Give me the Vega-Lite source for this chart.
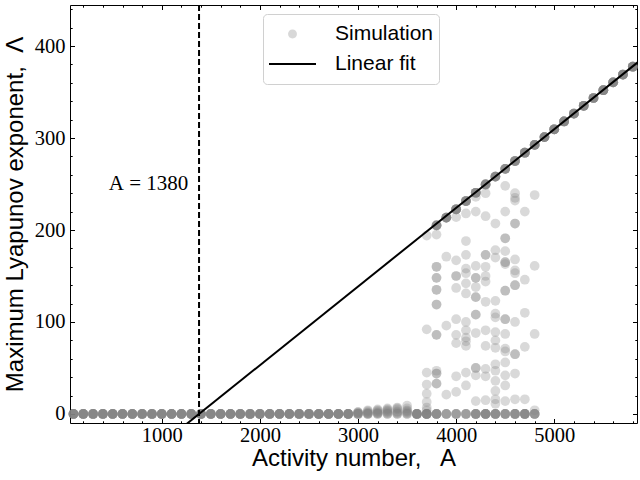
{
  "$schema": "https://vega.github.io/schema/vega-lite/v6.json",
  "width": 567,
  "height": 418,
  "autosize": "none",
  "padding": {"left": 70, "top": 5, "right": 3, "bottom": 57},
  "config": {
    "view": {"stroke": null},
    "axis": {
      "grid": false,
      "domainColor": "black",
      "domainWidth": 1,
      "tickColor": "black",
      "tickWidth": 1,
      "labelFont": "Liberation Serif",
      "labelFontSize": 20.5,
      "labelColor": "black",
      "titleFont": "Liberation Sans",
      "titleFontSize": 24,
      "titleFontWeight": "normal",
      "titleColor": "black",
      "labelFlush": false,
      "labelOverlap": false
    }
  },
  "datasets": {
    "sim": [
      {"A":100,"L":0},{"A":100,"L":0},{"A":100,"L":0},{"A":100,"L":0},{"A":100,"L":0},{"A":100,"L":0},{"A":100,"L":0},{"A":100,"L":0},
      {"A":200,"L":0},{"A":200,"L":0},{"A":200,"L":0},{"A":200,"L":0},{"A":200,"L":0},{"A":200,"L":0},{"A":200,"L":0},{"A":200,"L":0},
      {"A":300,"L":0},{"A":300,"L":0},{"A":300,"L":0},{"A":300,"L":0},{"A":300,"L":0},{"A":300,"L":0},{"A":300,"L":0},{"A":300,"L":0},
      {"A":400,"L":0},{"A":400,"L":0},{"A":400,"L":0},{"A":400,"L":0},{"A":400,"L":0},{"A":400,"L":0},{"A":400,"L":0},{"A":400,"L":0},
      {"A":500,"L":0},{"A":500,"L":0},{"A":500,"L":0},{"A":500,"L":0},{"A":500,"L":0},{"A":500,"L":0},{"A":500,"L":0},{"A":500,"L":0},
      {"A":600,"L":0},{"A":600,"L":0},{"A":600,"L":0},{"A":600,"L":0},{"A":600,"L":0},{"A":600,"L":0},{"A":600,"L":0},{"A":600,"L":0},
      {"A":700,"L":0},{"A":700,"L":0},{"A":700,"L":0},{"A":700,"L":0},{"A":700,"L":0},{"A":700,"L":0},{"A":700,"L":0},{"A":700,"L":0},
      {"A":800,"L":0},{"A":800,"L":0},{"A":800,"L":0},{"A":800,"L":0},{"A":800,"L":0},{"A":800,"L":0},{"A":800,"L":0},{"A":800,"L":0},
      {"A":900,"L":0},{"A":900,"L":0},{"A":900,"L":0},{"A":900,"L":0},{"A":900,"L":0},{"A":900,"L":0},{"A":900,"L":0},{"A":900,"L":0},
      {"A":1000,"L":0},{"A":1000,"L":0},{"A":1000,"L":0},{"A":1000,"L":0},{"A":1000,"L":0},{"A":1000,"L":0},{"A":1000,"L":0},{"A":1000,"L":0},
      {"A":1100,"L":0},{"A":1100,"L":0},{"A":1100,"L":0},{"A":1100,"L":0},{"A":1100,"L":0},{"A":1100,"L":0},{"A":1100,"L":0},{"A":1100,"L":0},
      {"A":1200,"L":0},{"A":1200,"L":0},{"A":1200,"L":0},{"A":1200,"L":0},{"A":1200,"L":0},{"A":1200,"L":0},{"A":1200,"L":0},{"A":1200,"L":0},
      {"A":1300,"L":0},{"A":1300,"L":0},{"A":1300,"L":0},{"A":1300,"L":0},{"A":1300,"L":0},{"A":1300,"L":0},{"A":1300,"L":0},{"A":1300,"L":0},
      {"A":1400,"L":0},{"A":1400,"L":0},{"A":1400,"L":0},{"A":1400,"L":0},{"A":1400,"L":0},{"A":1400,"L":0},{"A":1400,"L":0},{"A":1400,"L":0},
      {"A":1500,"L":0},{"A":1500,"L":0},{"A":1500,"L":0},{"A":1500,"L":0},{"A":1500,"L":0},{"A":1500,"L":0},{"A":1500,"L":0},{"A":1500,"L":0},
      {"A":1600,"L":0},{"A":1600,"L":0},{"A":1600,"L":0},{"A":1600,"L":0},{"A":1600,"L":0},{"A":1600,"L":0},{"A":1600,"L":0},{"A":1600,"L":0},
      {"A":1700,"L":0},{"A":1700,"L":0},{"A":1700,"L":0},{"A":1700,"L":0},{"A":1700,"L":0},{"A":1700,"L":0},{"A":1700,"L":0},{"A":1700,"L":0},
      {"A":1800,"L":0},{"A":1800,"L":0},{"A":1800,"L":0},{"A":1800,"L":0},{"A":1800,"L":0},{"A":1800,"L":0},{"A":1800,"L":0},{"A":1800,"L":0},
      {"A":1900,"L":0},{"A":1900,"L":0},{"A":1900,"L":0},{"A":1900,"L":0},{"A":1900,"L":0},{"A":1900,"L":0},{"A":1900,"L":0},{"A":1900,"L":0},
      {"A":2000,"L":0},{"A":2000,"L":0},{"A":2000,"L":0},{"A":2000,"L":0},{"A":2000,"L":0},{"A":2000,"L":0},{"A":2000,"L":0},{"A":2000,"L":0},
      {"A":2100,"L":0},{"A":2100,"L":0},{"A":2100,"L":0},{"A":2100,"L":0},{"A":2100,"L":0},{"A":2100,"L":0},{"A":2100,"L":0},{"A":2100,"L":0},
      {"A":2200,"L":0},{"A":2200,"L":0},{"A":2200,"L":0},{"A":2200,"L":0},{"A":2200,"L":0},{"A":2200,"L":0},{"A":2200,"L":0},{"A":2200,"L":0},
      {"A":2300,"L":0},{"A":2300,"L":0},{"A":2300,"L":0},{"A":2300,"L":0},{"A":2300,"L":0},{"A":2300,"L":0},{"A":2300,"L":0},{"A":2300,"L":0},
      {"A":2400,"L":0},{"A":2400,"L":0},{"A":2400,"L":0},{"A":2400,"L":0},{"A":2400,"L":0},{"A":2400,"L":0},{"A":2400,"L":0},{"A":2400,"L":0},
      {"A":2500,"L":0},{"A":2500,"L":0},{"A":2500,"L":0},{"A":2500,"L":0},{"A":2500,"L":0},{"A":2500,"L":0},{"A":2500,"L":0},{"A":2500,"L":0},
      {"A":2600,"L":0},{"A":2600,"L":0},{"A":2600,"L":0},{"A":2600,"L":0},{"A":2600,"L":0},{"A":2600,"L":0},{"A":2600,"L":0},{"A":2600,"L":0},
      {"A":2700,"L":0},{"A":2700,"L":0},{"A":2700,"L":0},{"A":2700,"L":0},{"A":2700,"L":0},{"A":2700,"L":0},{"A":2700,"L":0},{"A":2700,"L":0},
      {"A":2800,"L":0},{"A":2800,"L":0},{"A":2800,"L":0},{"A":2800,"L":0},{"A":2800,"L":0},{"A":2800,"L":0},{"A":2800,"L":0},{"A":2800,"L":0},
      {"A":2900,"L":0},{"A":2900,"L":0},{"A":2900,"L":0},{"A":2900,"L":0},{"A":2900,"L":0},{"A":2900,"L":0},{"A":2900,"L":0},{"A":2900,"L":0},
      {"A":3000,"L":0},{"A":3000,"L":0},{"A":3000,"L":0},{"A":3000,"L":0},{"A":3000,"L":1},{"A":3000,"L":1},{"A":3000,"L":2},{"A":3000,"L":2},
      {"A":3100,"L":0},{"A":3100,"L":0},{"A":3100,"L":0},{"A":3100,"L":1},{"A":3100,"L":1},{"A":3100,"L":2},{"A":3100,"L":3},{"A":3100,"L":4},
      {"A":3200,"L":0},{"A":3200,"L":0},{"A":3200,"L":1},{"A":3200,"L":1},{"A":3200,"L":2},{"A":3200,"L":3},{"A":3200,"L":4},{"A":3200,"L":5},
      {"A":3300,"L":0},{"A":3300,"L":0},{"A":3300,"L":1},{"A":3300,"L":2},{"A":3300,"L":3},{"A":3300,"L":4},{"A":3300,"L":5},{"A":3300,"L":6},
      {"A":3400,"L":0},{"A":3400,"L":0},{"A":3400,"L":1},{"A":3400,"L":2},{"A":3400,"L":3},{"A":3400,"L":5},{"A":3400,"L":6},{"A":3400,"L":7},
      {"A":3500,"L":0},{"A":3500,"L":0},{"A":3500,"L":1},{"A":3500,"L":2},{"A":3500,"L":3},{"A":3500,"L":4},{"A":3500,"L":6},{"A":3500,"L":9},
      {"A":3600,"L":0},{"A":3600,"L":0},{"A":3600,"L":0},{"A":3600,"L":0},{"A":3600,"L":0},{"A":3600,"L":0},{"A":3600,"L":0},{"A":3600,"L":0},
      {"A":3700,"L":194},{"A":3700,"L":92},{"A":3700,"L":45},{"A":3700,"L":32},{"A":3700,"L":22},{"A":3700,"L":13},{"A":3700,"L":7},{"A":3700,"L":4},
      {"A":3700,"L":0},{"A":3700,"L":0},{"A":3700,"L":0},{"A":3700,"L":0},{"A":3700,"L":0},{"A":3700,"L":0},{"A":3700,"L":0},{"A":3700,"L":0},
      {"A":3800,"L":205},{"A":3800,"L":205},{"A":3800,"L":205},{"A":3800,"L":205},{"A":3800,"L":205},{"A":3800,"L":205},
      {"A":3800,"L":195},{"A":3800,"L":160},{"A":3800,"L":160},{"A":3800,"L":148},{"A":3800,"L":148},{"A":3800,"L":135},{"A":3800,"L":135},{"A":3800,"L":119},
      {"A":3800,"L":119},{"A":3800,"L":86},{"A":3800,"L":86},{"A":3800,"L":47},{"A":3800,"L":44},{"A":3800,"L":44},{"A":3800,"L":33},{"A":3800,"L":33},
      {"A":3800,"L":0},{"A":3800,"L":0},{"A":3800,"L":0},{"A":3800,"L":0},{"A":3800,"L":0},{"A":3800,"L":0},
      {"A":3900,"L":213.5},{"A":3900,"L":213.5},{"A":3900,"L":213.5},{"A":3900,"L":213.5},{"A":3900,"L":213.5},{"A":3900,"L":213.5},{"A":3900,"L":213.5},
      {"A":3900,"L":171},{"A":3900,"L":96},{"A":3900,"L":21},
      {"A":3900,"L":0},{"A":3900,"L":0},{"A":3900,"L":0},{"A":3900,"L":0},
      {"A":4000,"L":222.5},{"A":4000,"L":222.5},{"A":4000,"L":222.5},{"A":4000,"L":222.5},{"A":4000,"L":222.5},{"A":4000,"L":222.5},{"A":4000,"L":222.5},
      {"A":4000,"L":214},{"A":4000,"L":167},{"A":4000,"L":150},{"A":4000,"L":150},{"A":4000,"L":137},{"A":4000,"L":103},{"A":4000,"L":86},{"A":4000,"L":77},{"A":4000,"L":41},{"A":4000,"L":24},
      {"A":4000,"L":0},{"A":4000,"L":0},{"A":4000,"L":0},{"A":4000,"L":0},
      {"A":4100,"L":231.5},{"A":4100,"L":231.5},{"A":4100,"L":231.5},{"A":4100,"L":231.5},{"A":4100,"L":231.5},{"A":4100,"L":231.5},{"A":4100,"L":231.5},
      {"A":4100,"L":218},{"A":4100,"L":188},{"A":4100,"L":173},{"A":4100,"L":158},{"A":4100,"L":153},{"A":4100,"L":142},{"A":4100,"L":131},
      {"A":4100,"L":100},{"A":4100,"L":91},{"A":4100,"L":83},{"A":4100,"L":79},{"A":4100,"L":74},{"A":4100,"L":45},{"A":4100,"L":31},
      {"A":4100,"L":0},{"A":4100,"L":0},{"A":4100,"L":0},{"A":4100,"L":0},
      {"A":4200,"L":240.5},{"A":4200,"L":240.5},{"A":4200,"L":240.5},{"A":4200,"L":240.5},{"A":4200,"L":240.5},{"A":4200,"L":240.5},{"A":4200,"L":240.5},
      {"A":4200,"L":236},{"A":4200,"L":220},{"A":4200,"L":161},{"A":4200,"L":148},{"A":4200,"L":148},{"A":4200,"L":138},{"A":4200,"L":127},{"A":4200,"L":127},
      {"A":4200,"L":108},{"A":4200,"L":108},{"A":4200,"L":88},{"A":4200,"L":50},{"A":4200,"L":50},{"A":4200,"L":42},{"A":4200,"L":14},
      {"A":4200,"L":0},{"A":4200,"L":0},{"A":4200,"L":0},{"A":4200,"L":0},{"A":4200,"L":0},{"A":4200,"L":0},
      {"A":4300,"L":249.5},{"A":4300,"L":249.5},{"A":4300,"L":249.5},{"A":4300,"L":249.5},{"A":4300,"L":249.5},{"A":4300,"L":249.5},{"A":4300,"L":249.5},
      {"A":4300,"L":240},{"A":4300,"L":215},{"A":4300,"L":173},{"A":4300,"L":173},{"A":4300,"L":160},{"A":4300,"L":150},{"A":4300,"L":144},
      {"A":4300,"L":122},{"A":4300,"L":91},{"A":4300,"L":74},{"A":4300,"L":49},{"A":4300,"L":41},{"A":4300,"L":15},
      {"A":4300,"L":0},{"A":4300,"L":0},{"A":4300,"L":0},{"A":4300,"L":0},{"A":4300,"L":0},{"A":4300,"L":0},{"A":4300,"L":0},
      {"A":4400,"L":258},{"A":4400,"L":258},{"A":4400,"L":258},{"A":4400,"L":258},{"A":4400,"L":258},{"A":4400,"L":258},{"A":4400,"L":258},
      {"A":4400,"L":207},{"A":4400,"L":178},{"A":4400,"L":170},{"A":4400,"L":123},{"A":4400,"L":109},{"A":4400,"L":105},{"A":4400,"L":89},{"A":4400,"L":80},
      {"A":4400,"L":72},{"A":4400,"L":54},{"A":4400,"L":47},{"A":4400,"L":36},{"A":4400,"L":25},{"A":4400,"L":16},{"A":4400,"L":11},
      {"A":4400,"L":0},{"A":4400,"L":0},{"A":4400,"L":0},{"A":4400,"L":0},{"A":4400,"L":0},{"A":4400,"L":0},
      {"A":4500,"L":266.5},{"A":4500,"L":266.5},{"A":4500,"L":266.5},{"A":4500,"L":266.5},{"A":4500,"L":266.5},{"A":4500,"L":266.5},
      {"A":4500,"L":248},{"A":4500,"L":220},{"A":4500,"L":191},{"A":4500,"L":191},{"A":4500,"L":177},{"A":4500,"L":165},{"A":4500,"L":165},{"A":4500,"L":163},
      {"A":4500,"L":134},{"A":4500,"L":134},{"A":4500,"L":103},{"A":4500,"L":103},{"A":4500,"L":87},{"A":4500,"L":71},{"A":4500,"L":68},{"A":4500,"L":56},
      {"A":4500,"L":42},{"A":4500,"L":31},{"A":4500,"L":14},
      {"A":4500,"L":0},{"A":4500,"L":0},{"A":4500,"L":0},{"A":4500,"L":0},{"A":4500,"L":0},
      {"A":4600,"L":275},{"A":4600,"L":275},{"A":4600,"L":275},{"A":4600,"L":275},{"A":4600,"L":275},{"A":4600,"L":275},{"A":4600,"L":275},
      {"A":4600,"L":240},{"A":4600,"L":235},{"A":4600,"L":232},{"A":4600,"L":207},{"A":4600,"L":207},{"A":4600,"L":168},{"A":4600,"L":156},{"A":4600,"L":153},
      {"A":4600,"L":140},{"A":4600,"L":140},{"A":4600,"L":100},{"A":4600,"L":65},{"A":4600,"L":65},{"A":4600,"L":44},{"A":4600,"L":16},
      {"A":4600,"L":0},{"A":4600,"L":0},{"A":4600,"L":0},{"A":4600,"L":0},{"A":4600,"L":0},{"A":4600,"L":0},
      {"A":4700,"L":284},{"A":4700,"L":284},{"A":4700,"L":284},{"A":4700,"L":284},{"A":4700,"L":284},{"A":4700,"L":284},{"A":4700,"L":284},{"A":4700,"L":284},
      {"A":4700,"L":220},{"A":4700,"L":146},{"A":4700,"L":110},{"A":4700,"L":73},{"A":4700,"L":16},
      {"A":4700,"L":0},{"A":4700,"L":0},{"A":4700,"L":0},{"A":4700,"L":0},{"A":4700,"L":0},{"A":4700,"L":0},{"A":4700,"L":0},
      {"A":4800,"L":292.5},{"A":4800,"L":292.5},{"A":4800,"L":292.5},{"A":4800,"L":292.5},{"A":4800,"L":292.5},{"A":4800,"L":292.5},{"A":4800,"L":292.5},{"A":4800,"L":292.5},
      {"A":4800,"L":238},{"A":4800,"L":161},{"A":4800,"L":87},{"A":4800,"L":4},
      {"A":4800,"L":0},{"A":4800,"L":0},{"A":4800,"L":0},{"A":4800,"L":0},{"A":4800,"L":0},
      {"A":4900,"L":301},{"A":4900,"L":301},{"A":4900,"L":301},{"A":4900,"L":301},{"A":4900,"L":301},{"A":4900,"L":301},{"A":4900,"L":301},{"A":4900,"L":301},
      {"A":5000,"L":309.5},{"A":5000,"L":309.5},{"A":5000,"L":309.5},{"A":5000,"L":309.5},{"A":5000,"L":309.5},{"A":5000,"L":309.5},{"A":5000,"L":309.5},{"A":5000,"L":309.5},
      {"A":5100,"L":318},{"A":5100,"L":318},{"A":5100,"L":318},{"A":5100,"L":318},{"A":5100,"L":318},{"A":5100,"L":318},{"A":5100,"L":318},{"A":5100,"L":318},
      {"A":5200,"L":326.5},{"A":5200,"L":326.5},{"A":5200,"L":326.5},{"A":5200,"L":326.5},{"A":5200,"L":326.5},{"A":5200,"L":326.5},{"A":5200,"L":326.5},{"A":5200,"L":326.5},
      {"A":5300,"L":335},{"A":5300,"L":335},{"A":5300,"L":335},{"A":5300,"L":335},{"A":5300,"L":335},{"A":5300,"L":335},{"A":5300,"L":335},{"A":5300,"L":335},
      {"A":5400,"L":343.5},{"A":5400,"L":343.5},{"A":5400,"L":343.5},{"A":5400,"L":343.5},{"A":5400,"L":343.5},{"A":5400,"L":343.5},{"A":5400,"L":343.5},{"A":5400,"L":343.5},
      {"A":5500,"L":352},{"A":5500,"L":352},{"A":5500,"L":352},{"A":5500,"L":352},{"A":5500,"L":352},{"A":5500,"L":352},{"A":5500,"L":352},{"A":5500,"L":352},
      {"A":5600,"L":360.5},{"A":5600,"L":360.5},{"A":5600,"L":360.5},{"A":5600,"L":360.5},{"A":5600,"L":360.5},{"A":5600,"L":360.5},{"A":5600,"L":360.5},{"A":5600,"L":360.5},
      {"A":5700,"L":369},{"A":5700,"L":369},{"A":5700,"L":369},{"A":5700,"L":369},{"A":5700,"L":369},{"A":5700,"L":369},{"A":5700,"L":369},{"A":5700,"L":369},
      {"A":5800,"L":377.5},{"A":5800,"L":377.5},{"A":5800,"L":377.5},{"A":5800,"L":377.5},{"A":5800,"L":377.5},{"A":5800,"L":377.5},{"A":5800,"L":377.5},{"A":5800,"L":377.5}
    ],
    "fit": [{"A": 0, "L": -118.0}, {"A": 6000, "L": 395.1}],
    "critical": [{"A": 1380}]
  },
  "layer": [
    {
      "data": {"name": "sim"},
      "mark": {"type": "circle", "size": 95, "fillOpacity": 0.3},
      "encoding": {
        "x": {
          "field": "A", "type": "quantitative",
          "scale": {"domain": [65, 5843], "nice": false, "zero": false},
          "axis": {
            "orient": "bottom",
            "title": "Activity number,\u00a0\u00a0 A",
            "values": [200,400,600,800,1000,1200,1400,1600,1800,2000,2200,2400,2600,2800,3000,3200,3400,3600,3800,4000,4200,4400,4600,4800,5000,5200,5400,5600,5800],
            "format": "d",
            "labelExpr": "datum.value % 1000 === 0 ? datum.label : ''",
            "tickSize": {"condition": {"test": "datum.value % 1000 === 0", "value": -4.5}, "value": -2.2},
            "labelPadding": 6.5,
            "titlePadding": -1
          }
        },
        "y": {
          "field": "L", "type": "quantitative",
          "scale": {"domain": [-9.8, 444.6], "nice": false, "zero": false},
          "axis": {
            "orient": "left",
            "title": "Maximum Lyapunov exponent,\u00a0 Λ",
            "values": [0,20,40,60,80,100,120,140,160,180,200,220,240,260,280,300,320,340,360,380,400,420,440],
            "format": "d",
            "labelExpr": "datum.value % 100 === 0 ? datum.label : ''",
            "tickSize": {"condition": {"test": "datum.value % 100 === 0", "value": -4.5}, "value": -2.2},
            "labelPadding": 9.5,
            "titlePadding": 7
          }
        },
        "color": {
          "datum": "Simulation",
          "type": "nominal",
          "scale": {"domain": ["Simulation", "Linear fit"], "range": ["#808080", "#000000"]},
          "legend": {
            "orient": "none",
            "legendX": 193,
            "legendY": 9,
            "title": null,
            "labelFont": "Liberation Sans",
            "labelFontSize": 21,
            "labelColor": "black",
            "symbolSize": 2209,
            "symbolType": {"expr": "datum.value === 'Simulation' ? 'M -0.19 0 A 0.19 0.19 0 1 0 0.19 0 A 0.19 0.19 0 1 0 -0.19 0 Z' : 'M -1 0 L 1 0'"},
            "symbolStrokeColor": {"expr": "datum.value === 'Simulation' ? 'transparent' : '#000000'"},
            "symbolOpacity": {"expr": "datum.value === 'Simulation' ? 0.3 : 1"},
            "symbolStrokeWidth": 2,
            "labelOffset": 18,
            "padding": 5,
            "rowPadding": 0,
            "clipHeight": 30,
            "strokeColor": "#d0d0d0",
            "fillColor": "white",
            "cornerRadius": 4
          }
        }
      }
    },
    {
      "data": {"name": "fit"},
      "mark": {"type": "line", "strokeWidth": 2, "clip": true, "color": "black"},
      "encoding": {
        "x": {
          "field": "A", "type": "quantitative",
          "axis": {
            "orient": "top",
            "title": null,
            "labels": false,
            "values": [200,400,600,800,1000,1200,1400,1600,1800,2000,2200,2400,2600,2800,3000,3200,3400,3600,3800,4000,4200,4400,4600,4800,5000,5200,5400,5600,5800],
            "tickSize": {"condition": {"test": "datum.value % 1000 === 0", "value": -4.5}, "value": -2.2}
          }
        },
        "y": {
          "field": "L", "type": "quantitative",
          "axis": {
            "orient": "right",
            "title": null,
            "labels": false,
            "values": [0,20,40,60,80,100,120,140,160,180,200,220,240,260,280,300,320,340,360,380,400,420,440],
            "tickSize": {"condition": {"test": "datum.value % 100 === 0", "value": -4.5}, "value": -2.2}
          }
        }
      }
    },
    {
      "data": {"name": "critical"},
      "mark": {"type": "rule", "color": "black", "strokeWidth": 2, "strokeDash": [6, 3]},
      "encoding": {
        "x": {"field": "A", "type": "quantitative", "axis": null}
      }
    },
    {
      "data": {"values": [{}]},
      "mark": {"type": "text", "font": "Liberation Serif", "fontSize": 21, "align": "right", "baseline": "middle", "color": "black"},
      "encoding": {
        "x": {"datum": 1271, "type": "quantitative", "axis": null},
        "y": {"datum": 250, "type": "quantitative", "axis": null},
        "text": {"value": "A\u00a0=\u00a01380"}
      }
    }
  ],
  "resolve": {"axis": {"x": "independent", "y": "independent"}}
}
